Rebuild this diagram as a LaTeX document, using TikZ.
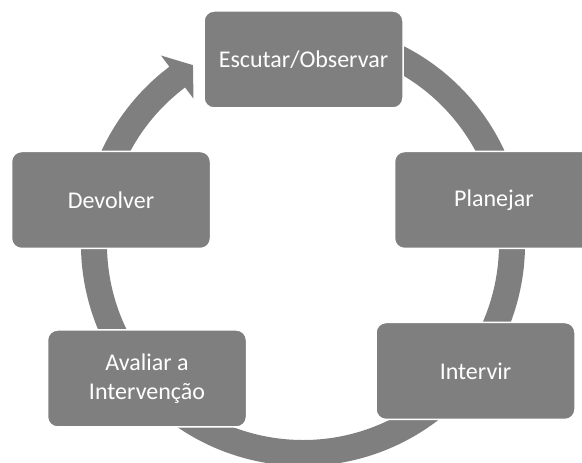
\documentclass[tikz,border=0pt]{standalone}
\usepackage{fontspec}
\setmainfont{Carlito}
\usetikzlibrary{positioning}
\definecolor{cinza}{RGB}{127,127,127}

\begin{document}
\begin{tikzpicture}[x=1pt, y=1pt, font=\fontsize{24}{29}\selectfont,
  etapa/.style={draw=white, line width=1.5pt, fill=cinza, rounded corners=10pt, text=white, align=center, minimum width=199pt, minimum height=97pt, inner sep=2pt}]
  \useasboundingbox (0,0) rectangle (582,463);
  \clip (0,0) rectangle (582,463);
  \coordinate (centro) at (303,219);
  % seta circular atras das etapas
  \fill[cinza, shift={(centro)}] (75:222pt) arc[start angle=75, end angle=-233, radius=222pt]
     -- (-233:236pt) -- (-238.4:210pt) -- (-233:182pt) -- (-233:196pt)
     arc[start angle=-233, end angle=75, radius=196pt] -- cycle;
  \node[etapa] (escutar) at (303.5,403.5) {Escutar/Observar};
  \node[etapa] (planejar) at (494,263) {Planejar};
  \node[etapa] (intervir) at (475.5,92) {Intervir};
  \node[etapa] (avaliar) at (147,84.5) {Avaliar a\\ Intervenção};
  \node[etapa] (devolver) at (111,263) {Devolver};
\end{tikzpicture}
\end{document}
